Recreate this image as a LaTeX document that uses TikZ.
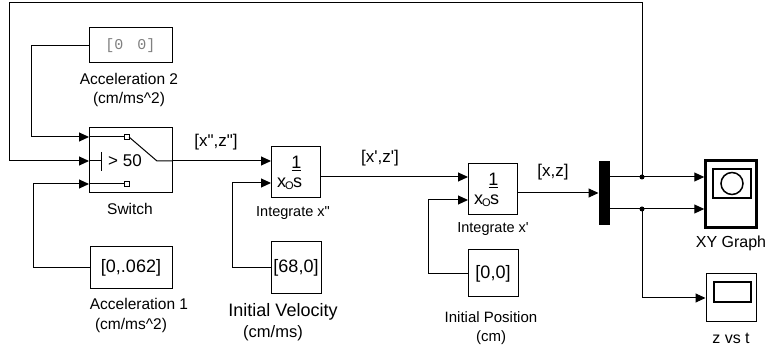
\documentclass[tikz,border=0pt]{standalone}
\usepackage{fontspec}
\setmainfont{Liberation Sans}[Ligatures=TeXOff]
\newfontfamily\blkmono{Liberation Mono}
\usetikzlibrary{arrows.meta}
\definecolor{constgray}{RGB}{128,128,128}
\tikzset{
  blk/.style={draw, line width=1pt, inner sep=0pt, font=\fontsize{18}{20}\selectfont},
  lbl/.style={inner sep=0pt, font=\fontsize{15.5}{18}\selectfont},
  sig/.style={line width=1pt, -{Triangle[length=10pt,width=9pt]}},
}
\begin{document}
\begin{tikzpicture}[x=1pt, y=-1pt, every node/.style={inner sep=0pt}]
  \useasboundingbox (0,0) rectangle (769,352);
  % blocks
  \node[blk, minimum width=83pt, minimum height=35pt] (acc2) at (130.5,45.5)
    {\blkmono\fontsize{15}{17}\selectfont\color{constgray}[0\hspace{14pt}0]};
  \node[blk, minimum width=83pt, minimum height=65pt] (sw) at (130.5,160.5) {};
  \node[blk, minimum width=82pt, minimum height=42pt] (acc1) at (131,268) {[0,.062]};
  \node[blk, minimum width=49pt, minimum height=51pt] (ix2) at (295.5,172.5) {};
  \node[blk, minimum width=50pt, minimum height=52pt] (vel) at (296,268) {[68,0]};
  \node[blk, minimum width=49pt, minimum height=51pt] (ix1) at (492.5,189.5) {};
  \node[blk, minimum width=50pt, minimum height=47pt] (pos) at (493,273.5) {[0,0]};
  \node[blk, fill=black, minimum width=10pt, minimum height=63pt] (mux) at (604,193.5) {};
  \node[blk, line width=2.5pt, minimum width=51pt, minimum height=67pt] (xy) at (731,194) {};
  \node[blk, minimum width=50pt, minimum height=48pt] (zvt) at (731,298) {};
  % labels
  \node[lbl] at (129,79) {Acceleration 2};
  \node[lbl] at (129,99) {(cm/ms\textasciicircum2)};
  \node[lbl] at (130,209) {Switch};
  \node[lbl] at (139,304) {Acceleration 1};
  \node[lbl] at (131,325) {(cm/ms\textasciicircum2)};
  \node[lbl, font=\fontsize{14.5}{17}\selectfont] at (293,213) {Integrate x"};
  \node[lbl, font=\fontsize{18}{20}\selectfont] at (283,312) {Initial Velocity};
  \node[lbl, font=\fontsize{16.5}{19}\selectfont] at (273,333) {(cm/ms)};
  \node[lbl, font=\fontsize{14.5}{17}\selectfont] at (493,229) {Integrate x'};
  \node[lbl, font=\fontsize{15}{17}\selectfont] at (491,317) {Initial Position};
  \node[lbl, font=\fontsize{15}{17}\selectfont] at (491,338) {(cm)};
  \node[lbl, font=\fontsize{16}{18}\selectfont] at (731,243) {XY Graph};
  \node[lbl, font=\fontsize{16}{18}\selectfont] at (731,338) {z vs t};
  \node[lbl, font=\fontsize{17}{19}\selectfont] at (216,142) {[x",z"]};
  \node[lbl, font=\fontsize{17}{19}\selectfont] at (380,158) {[x',z']};
  \node[lbl, font=\fontsize{17}{19}\selectfont] at (553,172) {[x,z]};
  % switch inside
  \draw[line width=1pt] (89,137) -- (124,137);
  \draw[line width=1pt] (124,134.5) rectangle (129,139.5);
  \draw[line width=1pt] (129,137) -- (157,161) -- (172,161);
  \draw[line width=1pt] (89,161) -- (101,161) (101,152) -- (101,171);
  \node[font=\fontsize{17}{19}\selectfont] at (125,161) {> 50};
  \draw[line width=1pt] (89,184) -- (124,184);
  \draw[line width=1pt] (124,181.5) rectangle (129,186.5);
  % integrators
  \foreach \blk in {ix2, ix1} {
    \node[font=\fontsize{18}{20}\selectfont] at ([xshift=1pt, yshift=10.5pt]\blk.center) {1};
    \draw[line width=1pt] ([xshift=-4pt, yshift=2pt]\blk.center) -- ([xshift=5pt, yshift=2pt]\blk.center);
    \node[font=\fontsize{18}{20}\selectfont] at ([xshift=-14pt, yshift=-10pt]\blk.center) {x};
    \node[font=\fontsize{11}{13}\selectfont] at ([xshift=-6pt, yshift=-13.5pt]\blk.center) {O};
    \node[font=\fontsize{18}{20}\selectfont] at ([xshift=2pt, yshift=-10pt]\blk.center) {s};
  }
  % scopes inside
  \draw[line width=1.5pt] (713,169) rectangle (751,198);
  \draw[line width=1.5pt] (732,183.5) circle (11pt);
  \draw[line width=1.5pt] (714,282) rectangle (751,302);
  % ports
  \coordinate (swa) at (89,137);
  \coordinate (swb) at (89,161);
  \coordinate (swc) at (89,184);
  \coordinate (swout) at (172,161);
  \coordinate (ix2a) at (271,161);
  \coordinate (ix2b) at (271,183);
  \coordinate (ix2out) at (320,177);
  \coordinate (ix1a) at (468,177);
  \coordinate (ix1b) at (468,200);
  \coordinate (ix1out) at (517,193);
  \coordinate (br1) at (642,177);
  \coordinate (br2) at (642,209);
  \coordinate (fbk) at (9,3);
  % connectors
  \draw[sig] (acc2.west) -- ++(-57,0) |- (swa);
  \draw[sig] (acc1.west) -- ++(-56,0) |- (swc);
  \draw[sig] (br1) |- (fbk) |- (swb);
  \draw[sig] (swout) -- (ix2a);
  \draw[sig] (vel.west) -- ++(-38,0) |- (ix2b);
  \draw[sig] (ix2out) -- (ix1a);
  \draw[sig] (pos.west) -- ++(-39,0) |- (ix1b);
  \draw[sig] (ix1out) -- (mux.west |- ix1out);
  \draw[sig] (mux.east |- br1) -- (xy.west |- br1);
  \draw[sig] (mux.east |- br2) -- (xy.west |- br2);
  \draw[sig] (br2) |- (zvt.west);
  \fill (br1) circle (2.5pt) (br2) circle (2.5pt);
\end{tikzpicture}
\end{document}
